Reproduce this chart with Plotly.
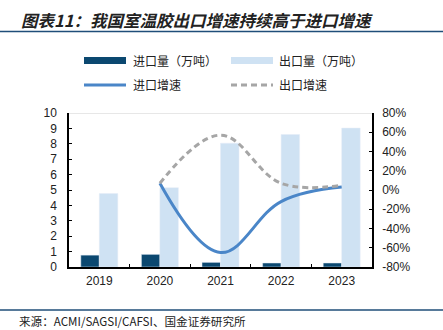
import plotly.graph_objects as go

years = ["2019", "2020", "2021", "2022", "2023"]
import_vol = [0.77, 0.82, 0.30, 0.26, 0.26]
export_vol = [4.77, 5.15, 8.04, 8.60, 9.02]
import_growth = [None, 7, -65, -12, 3]
export_growth = [None, 7, 57, 7, 5]

left_ticks = list(range(0, 11))
right_ticks = list(range(-80, 81, 20))
right_labels = [f"{v}%" for v in right_ticks]

C_IMP = "#0b4870"
C_EXP = "#cfe2f3"
C_IMPL = "#4a86c8"
C_EXPL = "#a6a6a6"
TXT = "#222222"
CJK = "Noto Sans CJK SC"
NUM = "Liberation Sans, Arial"

fig = go.Figure()
fig.add_trace(go.Bar(x=years, y=import_vol, marker_color=C_IMP, name="进口量（万吨）", showlegend=False))
fig.add_trace(go.Bar(x=years, y=export_vol, marker_color=C_EXP, name="出口量（万吨）", showlegend=False))
fig.add_trace(go.Scatter(x=years, y=import_growth, yaxis="y2", mode="lines",
                         line=dict(color=C_IMPL, width=3, shape="spline", smoothing=1.1),
                         name="进口增速", showlegend=False))
fig.add_trace(go.Scatter(x=years, y=export_growth, yaxis="y2", mode="lines",
                         line=dict(color=C_EXPL, width=3, shape="spline", smoothing=1.1, dash="6px,4px"),
                         name="出口增速", showlegend=False))

W, H = 443, 330
L, R, T, B = 69, 71, 113, 63
PW = W - L - R
PH = H - T - B
def px(x):
    return (x - L) / PW
def py(y):
    return (H - B - y) / PH

shapes = []
annotations = []
# title rule and footer rule
shapes.append(dict(type="line", xref="paper", yref="paper", x0=px(0), x1=px(443), y0=py(31.5), y1=py(31.5),
                   line=dict(color="#1f4e79", width=1.5)))
shapes.append(dict(type="line", xref="paper", yref="paper", x0=px(0), x1=px(443), y0=py(310), y1=py(310),
                   line=dict(color="#1f4e79", width=1.5)))
# top border of plot
shapes.append(dict(type="line", xref="paper", yref="y", x0=0, x1=1, y0=10, y1=10,
                   line=dict(color="#d0d0d0", width=1)))
# legend
shapes.append(dict(type="rect", xref="paper", yref="paper", x0=px(84), x1=px(126), y0=py(64), y1=py(57),
                   fillcolor=C_IMP, line=dict(width=0)))
shapes.append(dict(type="rect", xref="paper", yref="paper", x0=px(231), x1=px(273), y0=py(64), y1=py(57),
                   fillcolor=C_EXP, line=dict(width=0)))
shapes.append(dict(type="line", xref="paper", yref="paper", x0=px(84), x1=px(126), y0=py(85), y1=py(85),
                   line=dict(color=C_IMPL, width=3)))
shapes.append(dict(type="line", xref="paper", yref="paper", x0=px(231), x1=px(273), y0=py(85), y1=py(85),
                   line=dict(color=C_EXPL, width=3, dash="6px,4px")))
for x, y, t in [(131, 60.5, "进口量（万吨）"), (277, 60.5, "出口量（万吨）"),
                (131, 85, "进口增速"), (277, 85, "出口增速")]:
    annotations.append(dict(xref="paper", yref="paper", x=px(x), y=py(y), text=t, showarrow=False,
                            xanchor="left", yanchor="middle", font=dict(family=CJK, size=12, color=TXT)))
annotations.append(dict(xref="paper", yref="paper", x=px(19), y=py(20), text="<b><i>图表11：我国室温胶出口增速持续高于进口增速</i></b>",
                        showarrow=False, xanchor="left", yanchor="middle", font=dict(family=CJK, size=16.5, color=TXT)))
annotations.append(dict(xref="paper", yref="paper", x=px(17), y=py(321), text="来源：ACMI/SAGSI/CAFSI、国金证券研究所",
                        showarrow=False, xanchor="left", yanchor="middle", font=dict(family=CJK, size=11.6, color=TXT)))

fig.update_layout(
    width=W, height=H,
    margin=dict(l=L, r=R, t=T, b=B),
    paper_bgcolor="white", plot_bgcolor="white",
    barmode="group", bargap=0.39, bargroupgap=0,
    shapes=shapes, annotations=annotations,
    xaxis=dict(type="category", showline=True, linecolor="black", linewidth=1.5,
               ticks="inside", ticklen=3, tickson="boundaries", tickcolor="black",
               ticklabelstandoff=2,
               tickfont=dict(family=NUM, size=12, color=TXT), showgrid=False),
    yaxis=dict(range=[0, 10], tickvals=left_ticks, ticktext=[str(v) for v in left_ticks],
               showline=True, linecolor="black", linewidth=1.5, ticks="inside", ticklen=3,
               tickcolor="black", showgrid=False, zeroline=False, ticklabelstandoff=8,
               tickfont=dict(family=NUM, size=12, color=TXT)),
    yaxis2=dict(range=[-80, 80], tickvals=right_ticks, ticktext=right_labels, overlaying="y", side="right",
                showline=True, linecolor="black", linewidth=1.5, ticks="inside", ticklen=3,
                tickcolor="black", showgrid=False, zeroline=False, ticklabelstandoff=6,
                tickfont=dict(family=NUM, size=12, color=TXT)),
)

fig.write_html("out.html")
